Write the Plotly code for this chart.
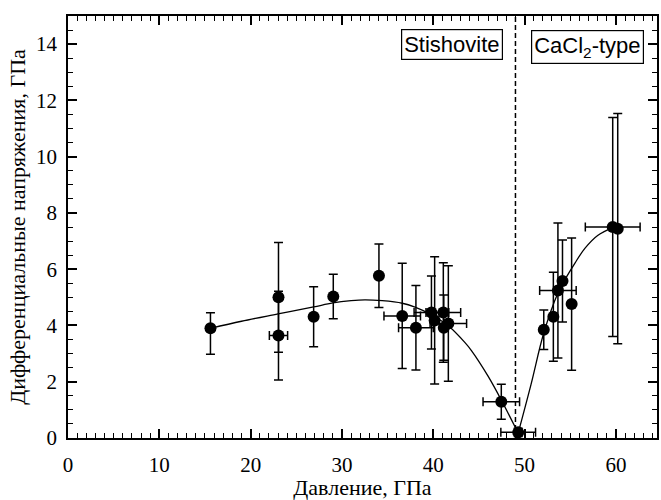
import plotly.graph_objects as go

# Measured points
pressure = [15.6, 23.05, 23.05, 26.9, 29.05, 34.05, 36.6, 38.1, 39.8, 40.15, 41.1, 41.15, 41.65,
            47.45, 49.3, 52.1, 53.15, 53.65, 54.15, 55.15, 59.65, 60.2]
stress = [3.9, 5.0, 3.64, 4.31, 5.03, 5.77, 4.34, 3.92, 4.46, 4.18, 4.46, 3.92, 4.07,
          1.29, 0.2, 3.85, 4.31, 5.24, 5.58, 4.76, 7.5, 7.44]
stress_err_plus = [0.55, 1.95, 1.58, 1.07, 0.79, 1.13, 1.87, 1.5, 1.3, 2.26, 1.77, 1.16, 2.05,
                   0.62, 0.15, 0.7, 1.58, 2.4, 1.46, 2.35, 3.89, 4.09]
stress_err_minus = [0.92, 1.95, 1.58, 1.07, 0.79, 1.13, 1.87, 1.5, 1.3, 2.26, 1.77, 1.16, 2.05,
                    0.62, 0.15, 0.7, 1.58, 2.4, 1.46, 2.35, 3.89, 4.09]
pressure_err = [0, 0, 1.0, 0, 0, 0, 2.0, 1.9, 1.9, 0, 1.9, 0, 2.0,
                2.0, 1.9, 0, 0, 2.0, 0, 0, 3.0, 0]

# Fitted curve
fit_stish_x = [15.6, 19.0, 23.0, 26.9, 29.0, 31.0, 32.5, 34.4, 36.6, 38.0, 39.8, 41.7, 43.5, 44.2, 46.0, 47.5, 48.4, 49.3]
fit_stish_y = [3.9, 4.15, 4.41, 4.66, 4.8, 4.88, 4.91, 4.88, 4.79, 4.65, 4.38, 3.97, 3.38, 3.1, 2.2, 1.32, 0.75, 0.18]
fit_cacl_x = [49.3, 50.7, 52.1, 53.65, 54.4, 55.5, 56.6, 58.0, 59.65]
fit_cacl_y = [0.18, 1.9, 3.73, 5.15, 5.62, 6.21, 6.74, 7.2, 7.48]

transition_p = 49.0

x_ticks = [0, 10, 20, 30, 40, 50, 60]
y_ticks = [0, 2, 4, 6, 8, 10, 12, 14]

serif = "Liberation Serif, Times New Roman, serif"
sans = "Liberation Sans, Arial, sans-serif"

fig = go.Figure()

for fx, fy in ((fit_stish_x, fit_stish_y), (fit_cacl_x, fit_cacl_y)):
    fig.add_trace(go.Scatter(x=fx, y=fy, mode="lines",
                             line=dict(color="black", width=1.3, shape="spline"),
                             hoverinfo="skip", showlegend=False))

# horizontal error bars only where present
hx = [p for p, e in zip(pressure, pressure_err) if e > 0]
hy = [s for s, e in zip(stress, pressure_err) if e > 0]
he = [e for e in pressure_err if e > 0]
fig.add_trace(go.Scatter(x=hx, y=hy, mode="markers",
                         marker=dict(size=1, color="rgba(0,0,0,0)"),
                         error_x=dict(type="data", array=he, color="black", thickness=1.5, width=4.5),
                         showlegend=False, hoverinfo="skip"))

fig.add_trace(go.Scatter(x=pressure, y=stress, mode="markers",
                         marker=dict(size=12, color="black"),
                         error_y=dict(type="data", symmetric=False, array=stress_err_plus,
                                      arrayminus=stress_err_minus, color="black",
                                      thickness=1.5, width=4.5),
                         showlegend=False))

fig.add_shape(type="line", x0=transition_p, x1=transition_p, y0=0, y1=1, yref="paper",
              line=dict(color="black", width=1.5, dash="5px,3px"))

fig.add_annotation(x=42.0, y=13.98, text="Stishovite", showarrow=False,
                   font=dict(family=sans, size=22, color="black"),
                   bordercolor="black", borderwidth=1.2, borderpad=2, bgcolor="white")
fig.add_annotation(x=56.85, y=13.9, text="CaCl<sub>2</sub>-type", showarrow=False,
                   font=dict(family=sans, size=22, color="black"),
                   bordercolor="black", borderwidth=1.2, borderpad=2, bgcolor="white")

axis_common = dict(showline=True, linecolor="black", linewidth=1.5, mirror="allticks",
                   ticks="inside", ticklen=9, tickwidth=1.5, tickcolor="black",
                   showgrid=False, zeroline=False,
                   tickfont=dict(family=serif, size=21, color="black"))

fig.update_xaxes(range=[0, 64.5], tickvals=x_ticks, ticklabelstandoff=7,
                 minor=dict(dtick=1, ticks="inside", ticklen=5, tickwidth=1.2, tickcolor="black"),
                 title=dict(text="Давление, ГПа", font=dict(family=serif, size=22, color="black"), standoff=0),
                 **axis_common)
fig.update_yaxes(range=[0, 15], tickvals=y_ticks, ticklabelstandoff=5,
                 minor=dict(dtick=0.5, ticks="inside", ticklen=5, tickwidth=1.2, tickcolor="black"),
                 title=dict(text="Дифференциальные напряжения, ГПа", font=dict(family=serif, size=22, color="black"), standoff=4),
                 **axis_common)

fig.update_layout(width=661, height=500, margin=dict(l=68, r=2, t=16, b=62),
                  plot_bgcolor="white", paper_bgcolor="white", showlegend=False)

fig.write_html("out.html")
